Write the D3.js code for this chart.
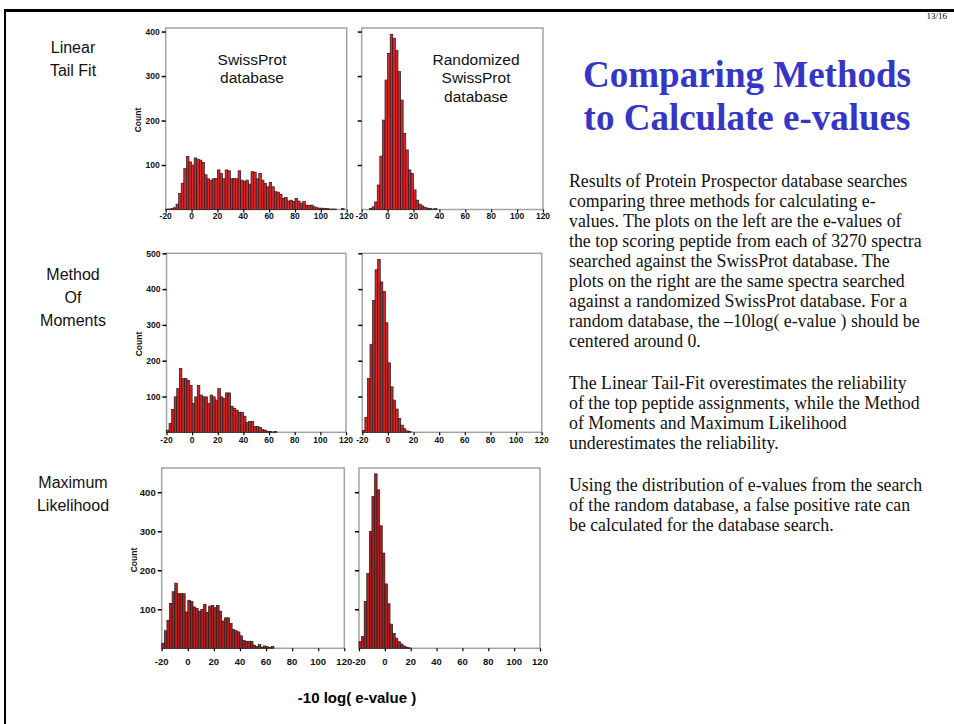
<!DOCTYPE html>
<html>
<head>
<meta charset="utf-8">
<script src="https://cdn.jsdelivr.net/npm/d3@7"></script>
<style>
  body { margin: 0; background: #fff; }
  .tick-lab { font-family: 'Liberation Sans Narrow', 'Arial Narrow', 'Liberation Sans', sans-serif; font-weight: bold; font-size: 8.5px; fill: #111; }
  .row-lab { font-family: 'Liberation Sans', Arial, sans-serif; font-size: 16px; fill: #111; }
  .db-lab { font-family: 'Liberation Sans', Arial, sans-serif; font-size: 15.5px; fill: #111; }
  .para { font-family: 'Liberation Serif', 'Times New Roman', serif; font-size: 17.8px; fill: #111; }
</style>
</head>
<body>
<div id="main-svg"></div>
<script>
// histogram counts, bins 2 units wide starting at -20
var binStart = -20, binWidth = 2;

var ltfSwiss = [1,1,2,4,12,36,59,92,119,107,100,116,113,111,106,78,69,66,69,70,89,81,69,89,87,69,70,69,87,66,63,66,57,85,84,69,81,66,59,51,61,51,40,39,34,25,27,19,21,18,25,19,14,18,10,9,10,6,4,3,3,2,2,1,1,1,0,0,2,0];
var ltfRandom = [0,0,0,2,6,17,55,120,201,291,351,394,385,358,310,246,171,134,89,81,44,21,12,8,5,3,2,1,2];
var momSwiss = [6,25,64,99,122,178,150,150,145,131,81,99,131,104,99,99,81,104,99,90,122,99,94,110,110,73,67,62,56,56,45,27,30,30,16,16,14,8,6,3,2,1,2];
var momRandom = [5,42,150,246,368,454,483,420,393,306,194,127,90,65,39,20,10,4,2];
var mlSwiss = [13,45,72,115,145,167,140,140,140,93,123,120,106,102,95,100,112,92,108,110,104,110,95,70,78,78,64,48,45,42,32,20,18,18,18,8,5,10,3,6,4,2,5];
var mlRandom = [17,30,120,192,299,389,447,406,314,244,165,114,62,38,26,17,11,6,3,1];

var xTicks = [-20, 0, 20, 40, 60, 80, 100, 120];
var yTicksLtf = [100, 200, 300, 400];
var yTicksMom = [100, 200, 300, 400, 500];
var yTicksMl = [100, 200, 300, 400];

var rowNames = [["Linear", "Tail Fit"], ["Method", "Of", "Moments"], ["Maximum", "Likelihood"]];

var paragraphs = [
  ["Results of Protein Prospector database searches",
   "comparing three methods for calculating e-",
   "values. The plots on the left are the e-values of",
   "the top scoring peptide from each of 3270 spectra",
   "searched against the SwissProt database.  The",
   "plots on the right are the same spectra searched",
   "against a randomized SwissProt database. For a",
   "random database, the \u201310log( e-value ) should be",
   "centered around 0."],
  ["The Linear Tail-Fit overestimates the reliability",
   "of the top peptide assignments, while the Method",
   "of Moments and Maximum Likelihood",
   "underestimates the reliability."],
  ["Using the distribution of e-values from the search",
   "of the random database, a false positive rate can",
   "be calculated for the database search."]
];

var width = 954, height = 724;

var svg = d3.select("#main-svg")
    .append("svg")
    .attr("width", width)
    .attr("height", height);

// slide frame
svg.append("line").attr("x1", 4).attr("x2", width).attr("y1", 10.5).attr("y2", 10.5)
    .attr("stroke", "#000").attr("stroke-width", 3);
svg.append("line").attr("x1", 5).attr("x2", 5).attr("y1", 9).attr("y2", height)
    .attr("stroke", "#000").attr("stroke-width", 2);

// panel layout
var rows = [
  { data: [ltfSwiss, ltfRandom], yTicks: yTicksLtf, yMax: 408, top: 28, base: 209.5,
    xs: [[165.7, 346.7], [361.7, 543]], fill: "#e3232b", countY: 120, countX: 141, labY: 219, labSize: 8.5, nameY: 53 },
  { data: [momSwiss, momRandom], yTicks: yTicksMom, yMax: 500, top: 253.3, base: 432.3,
    xs: [[166.5, 346], [362.3, 541.7]], fill: "#d42424", countY: 344, countX: 142, labY: 443, labSize: 8.5, nameY: 280 },
  { data: [mlSwiss, mlRandom], yTicks: yTicksMl, yMax: 462, top: 468, base: 648.3,
    xs: [[161.7, 344.3], [359, 540]], fill: "#b81e1e", countY: 560, countX: 137, labY: 664.5, labSize: 9.5, nameY: 488 }
];

rows.forEach(function(row, r) {
  var y = d3.scaleLinear().domain([0, row.yMax]).range([row.base, row.top]);

  row.xs.forEach(function(xr, p) {
    var x = d3.scaleLinear().domain([-20, 120]).range(xr);
    var g = svg.append("g");

    g.append("rect")
        .attr("x", xr[0]).attr("y", row.top)
        .attr("width", xr[1] - xr[0]).attr("height", row.base - row.top)
        .attr("fill", "#fff").attr("stroke", "#a3a3a3").attr("stroke-width", 1.5);

    var vals = row.data[p];
    var bw = x(binWidth) - x(0);
    g.selectAll("rect.bar")
      .data(vals.map(function(v, i) { return { x0: binStart + i * binWidth, v: v }; })
                .filter(function(d) { return d.v > 0; }))
      .enter().append("rect")
        .attr("class", "bar")
        .attr("x", function(d) { return x(d.x0); })
        .attr("y", function(d) { return y(d.v); })
        .attr("width", bw)
        .attr("height", function(d) { return row.base - y(d.v); })
        .attr("fill", row.fill)
        .attr("stroke", "#1c1c1c")
        .attr("stroke-width", 0.7);

    var yAxis = d3.axisLeft(y).tickValues(row.yTicks).tickSize(4).tickPadding(2)
        .tickFormat(p == 0 ? d3.format("d") : "");
    var ya = g.append("g").attr("transform", "translate(" + xr[0] + ",0)").call(yAxis);
    ya.select(".domain").remove();
    ya.selectAll("line").attr("stroke", "#000").attr("stroke-width", 1.5);
    ya.selectAll("text").attr("class", "tick-lab").attr("font-family", null).attr("font-size", null)
      .style("font-size", row.labSize + "px");

    var xAxis = d3.axisBottom(x).tickValues(xTicks).tickSize(3).tickFormat("");
    var xa = g.append("g").attr("transform", "translate(0," + row.base + ")").call(xAxis);
    xa.select(".domain").remove();
    xa.selectAll("line").attr("stroke", "#000").attr("stroke-width", 1.2);

    g.selectAll("text.xl")
      .data(xTicks)
      .enter().append("text")
        .attr("class", "tick-lab")
        .style("font-size", row.labSize + "px")
        .attr("x", function(d) { return x(d); })
        .attr("y", row.labY)
        .attr("text-anchor", "middle")
        .text(function(d) { return d; });
  });

  svg.append("text")
      .attr("class", "tick-lab")
      .attr("transform", "translate(" + row.countX + "," + row.countY + ") rotate(-90)")
      .attr("text-anchor", "middle")
      .text("Count");

  svg.selectAll(null)
    .data(rowNames[r])
    .enter().append("text")
      .attr("class", "row-lab")
      .attr("x", 73)
      .attr("y", function(d, i) { return row.nameY + i * 22.8; })
      .attr("text-anchor", "middle")
      .text(function(d) { return d; });
});

// database labels in the top row
svg.selectAll(null)
  .data(["SwissProt", "database"])
  .enter().append("text")
    .attr("class", "db-lab")
    .attr("x", 252).attr("y", function(d, i) { return 64.5 + i * 18.5; })
    .attr("text-anchor", "middle")
    .text(function(d) { return d; });

svg.selectAll(null)
  .data(["Randomized", "SwissProt", "database"])
  .enter().append("text")
    .attr("class", "db-lab")
    .attr("x", 476).attr("y", function(d, i) { return 64.5 + i * 18.7; })
    .attr("text-anchor", "middle")
    .text(function(d) { return d; });

svg.append("text")
    .attr("x", 357).attr("y", 703)
    .attr("text-anchor", "middle")
    .style("font-family", "'Liberation Sans', Arial, sans-serif")
    .style("font-weight", "bold")
    .style("font-size", "15px")
    .text("-10 log( e-value )");

// title and notes
svg.append("text")
    .attr("x", 947).attr("y", 19)
    .attr("text-anchor", "end")
    .style("font-family", "'Liberation Serif', serif")
    .style("font-size", "9px")
    .text("13/16");

svg.selectAll(null)
  .data(["Comparing Methods", "to Calculate e-values"])
  .enter().append("text")
    .attr("x", 747).attr("y", function(d, i) { return 87 + i * 42.5; })
    .attr("text-anchor", "middle")
    .style("font-family", "'Liberation Serif', 'Times New Roman', serif")
    .style("font-weight", "bold")
    .style("font-size", "37px")
    .style("fill", "#3636c6")
    .text(function(d) { return d; });

var paraTop = [187, 388.5, 490.5];
paragraphs.forEach(function(lines, k) {
  svg.selectAll(null)
    .data(lines)
    .enter().append("text")
      .attr("class", "para")
      .attr("x", 569)
      .attr("y", function(d, i) { return paraTop[k] + i * 20; })
      .text(function(d) { return d; });
});
</script>
</body>
</html>
